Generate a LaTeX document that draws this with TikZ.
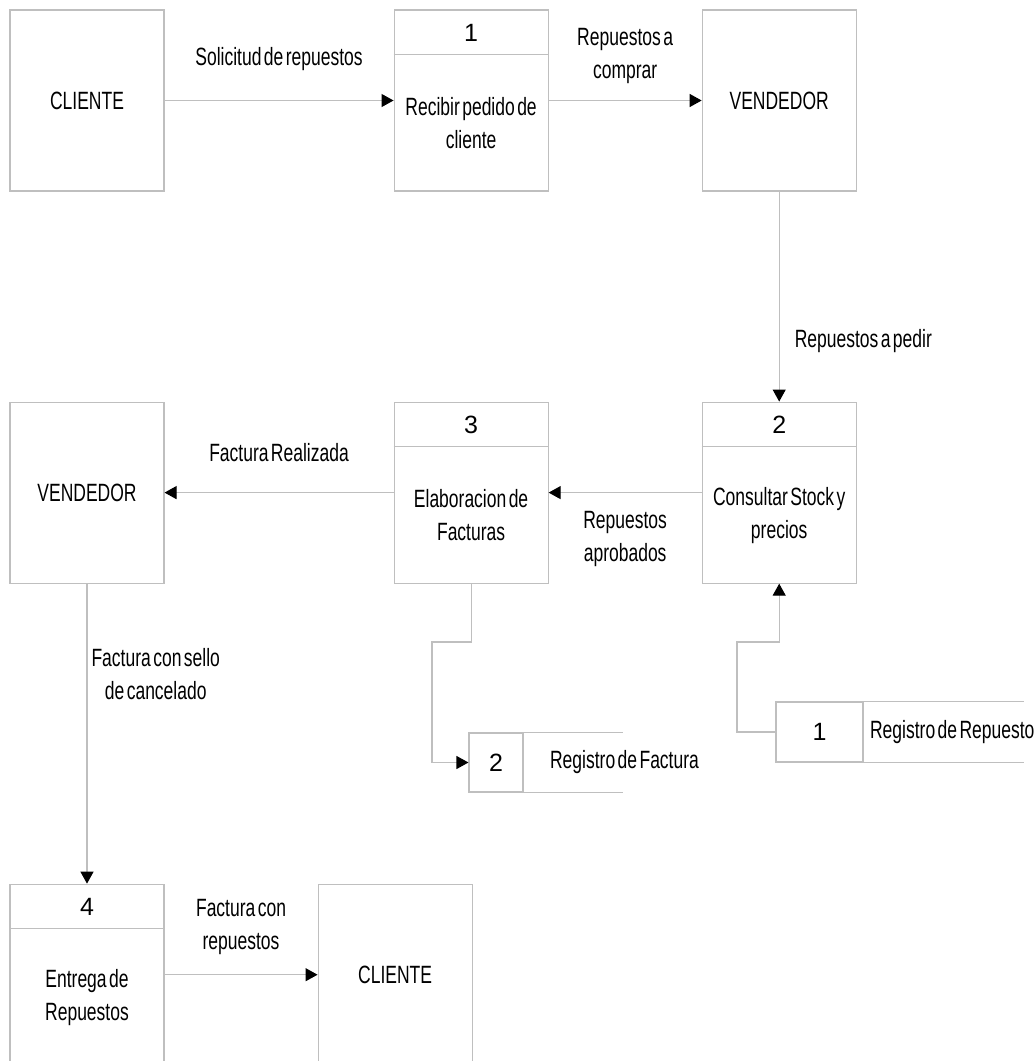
\documentclass[tikz,border=0pt]{standalone}
\usepackage{fontspec}
\setmainfont{Liberation Sans}[FakeStretch=0.7,WordSpace=0.5]
\newfontfamily\numfont{Liberation Sans}
\usetikzlibrary{arrows.meta,positioning}

\begin{document}
\begin{tikzpicture}[x=0.5pt,y=-0.5pt,>={Triangle[length=6pt,width=6.5pt,color=black]},
  line width=0.55pt,font=\fontsize{12.5}{16.5}\selectfont,
  line/.style={draw=gray!50},flow/.style={line,->},
  ent/.style={line,minimum width=77pt,minimum height=90.5pt,inner sep=0pt},
  lbl/.style={align=center,inner sep=2pt},
  store/.style={line,minimum height=29.5pt,inner sep=0pt,font=\numfont\fontsize{12.5}{15}\selectfont}]
  \useasboundingbox (0,0) rectangle (1035,1061);
  % entidades y procesos
  \node[ent] (cli1) at (87,100.5) {CLIENTE};
  \node[ent] (p1) [right=114.5pt of cli1] {};
  \node[ent] (ven1) [right=76.5pt of p1] {VENDEDOR};
  \node[ent] (p2) [below=105pt of ven1] {};
  \node[ent] (p3) [left=76.5pt of p2] {};
  \node[ent] (ven2) [left=114.5pt of p3] {VENDEDOR};
  \node[ent] (p4) [below=150pt of ven2] {};
  \node[ent] (cli2) [right=76.5pt of p4] {CLIENTE};
  \foreach \p/\n in {p1/1,p2/2,p3/3,p4/4}{
    \draw[line] ([yshift=-22.5pt]\p.north west) -- ([yshift=-22.5pt]\p.north east);
    \node[font=\numfont\fontsize{12.5}{15}\selectfont] at ([yshift=-11.75pt]\p.north) {\n};
  }
  \node[lbl] (p1t) at ([yshift=-11.25pt]p1.center) {Recibir pedido de\\cliente};
  \node[lbl] (p2t) at ([yshift=-11.25pt]p2.center) {Consultar Stock y\\precios};
  \node[lbl] (p3t) at ([yshift=-11.25pt]p3.center) {Elaboracion de\\Facturas};
  \node[lbl] (p4t) at ([yshift=-11.25pt]p4.center) {Entrega de\\Repuestos};
  % almacenes
  \node[store,minimum width=27pt] (s2) at (496,762.5) {2};
  \node[lbl,right=11pt of s2] (s2t) {Registro de Factura};
  \draw[line] (s2.north east) -- ++(49.5pt,0) (s2.south east) -- ++(49.5pt,0);
  \node[store,minimum width=43.5pt,minimum height=30pt] (s1) at (819.5,732) {1};
  \node[lbl,right=1pt of s1] (s1t) {Registro de Repuesto};
  \draw[line] (s1.north east) -- ++(80pt,0) (s1.south east) -- ++(80pt,0);
  \coordinate (b3) at (432,642);
  \coordinate (b2) at (737,642);
  % flujos
  \draw[flow] (cli1) -- node[lbl,above=12.4pt] {Solicitud de repuestos} (p1);
  \draw[flow] (p1) -- node[lbl,above=6pt] {Repuestos a\\comprar} (ven1);
  \draw[flow] (ven1) -- node[lbl,pos=0.71,right=5.5pt] {Repuestos a pedir} (p2);
  \draw[flow] (p2) -- node[lbl,below=7pt] {Repuestos\\aprobados} (p3);
  \draw[flow] (p3) -- node[lbl,above=13pt] {Factura Realizada} (ven2);
  \draw[flow] (ven2) -- node[lbl,pos=0.3,right=0pt] {Factura con sello\\de cancelado} (p4);
  \draw[flow] (p4) -- node[lbl,above=7.5pt] {Factura con\\repuestos} (cli2);
  \draw[flow] (p3) |- (b3) |- (s2);
  \draw[flow] (s1) -| (b2) -| (p2);
\end{tikzpicture}
\end{document}
